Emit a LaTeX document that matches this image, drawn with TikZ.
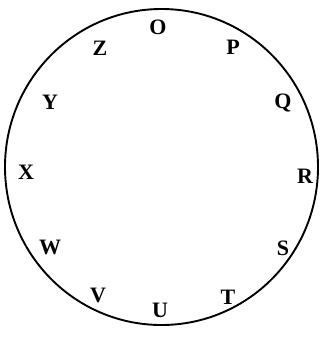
\documentclass[tikz,border=0pt]{standalone}
\usepackage{fontspec}
\setmainfont{Liberation Serif}
\usetikzlibrary{positioning}

\begin{document}
\begin{tikzpicture}[x=1pt,y=-1pt]
\useasboundingbox (0,0) rectangle (321,340);
\coordinate (C) at (161.5,167);

\draw[line width=1.9pt] (C) ellipse [x radius=156.5, y radius=158];

\foreach \l/\x/\y in {O/158/27,P/233/47,Q/283/103,R/305/176,S/283/248,T/228/297,
    U/160/310,V/98/295,W/50/247,X/26/172,Y/50/102,Z/100/48} {
    \node[font=\fontsize{22}{22}\selectfont\bfseries, inner sep=0pt] (\l) at (\x,\y) {\l};
}
\end{tikzpicture}
\end{document}
